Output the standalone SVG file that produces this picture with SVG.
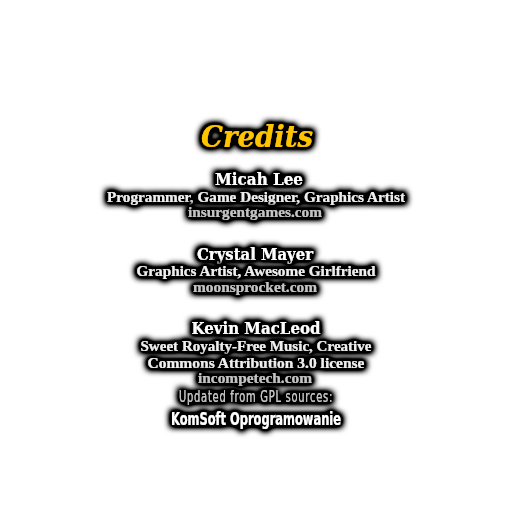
<svg xmlns="http://www.w3.org/2000/svg" width="512" height="512" viewBox="0 0 512 512">
<defs>
<filter id="glow" x="-25%" y="-100%" width="150%" height="300%">
<feMorphology in="SourceAlpha" operator="dilate" radius="1.5" result="d"/>
<feGaussianBlur in="d" stdDeviation="3.2" result="b"/>
<feComponentTransfer in="b" result="c"><feFuncA type="linear" slope="2.2"/></feComponentTransfer>
<feFlood flood-color="#000"/>
<feComposite in2="c" operator="in" result="s"/>
<feMerge><feMergeNode in="s"/><feMergeNode in="SourceGraphic"/></feMerge>
</filter>
<style>
text{text-anchor:middle;font-family:"DejaVu Serif","Liberation Serif",serif;font-weight:bold;filter:url(#glow)}
.title{font-size:30px;font-style:italic;fill:#FFC400}
.name{font-size:17px;fill:#ffffff}
.role{font-family:"Liberation Serif","DejaVu Serif",serif;font-size:15px;fill:#eeeeee}
.url{font-family:"Liberation Serif","DejaVu Serif",serif;font-size:15px;fill:#c4c4c4}
.tech{font-family:"DejaVu Sans Condensed","Liberation Sans Narrow","DejaVu Sans",sans-serif;font-weight:normal}
.upd{font-size:15px;fill:#c8c8c8;letter-spacing:1px}
.kom{font-size:18px;fill:#ffffff;font-weight:bold}
</style>
</defs>
<g id="title"><text class="title" x="257" y="147" textLength="112" lengthAdjust="spacingAndGlyphs">Credits</text></g>
<g id="micah">
<text class="name" x="259" y="185" textLength="88" lengthAdjust="spacingAndGlyphs">Micah Lee</text>
<text class="role" x="256" y="202" textLength="298" lengthAdjust="spacingAndGlyphs">Programmer, Game Designer, Graphics Artist</text>
<text class="url" x="255" y="217" textLength="134" lengthAdjust="spacingAndGlyphs">insurgentgames.com</text>
</g>
<g id="crystal">
<text class="name" x="255" y="260" textLength="116" lengthAdjust="spacingAndGlyphs">Crystal Mayer</text>
<text class="role" x="256" y="276" textLength="239" lengthAdjust="spacingAndGlyphs">Graphics Artist, Awesome Girlfriend</text>
<text class="url" x="255" y="292" textLength="124" lengthAdjust="spacingAndGlyphs">moonsprocket.com</text>
</g>
<g id="kevin">
<text class="name" x="256" y="334" textLength="129" lengthAdjust="spacingAndGlyphs">Kevin MacLeod</text>
<text class="role" x="256" y="351" textLength="231" lengthAdjust="spacingAndGlyphs">Sweet Royalty-Free Music, Creative</text>
<text class="role" x="256" y="368" textLength="217" lengthAdjust="spacingAndGlyphs">Commons Attribution 3.0 license</text>
<text class="url" x="255" y="383" textLength="114" lengthAdjust="spacingAndGlyphs">incompetech.com</text>
</g>
<g id="komsoft">
<text class="tech upd" x="256" y="402" textLength="154" lengthAdjust="spacingAndGlyphs">Updated from GPL sources:</text>
<text class="tech kom" x="256" y="425" textLength="170" lengthAdjust="spacingAndGlyphs">KomSoft Oprogramowanie</text>
</g>
</svg>
